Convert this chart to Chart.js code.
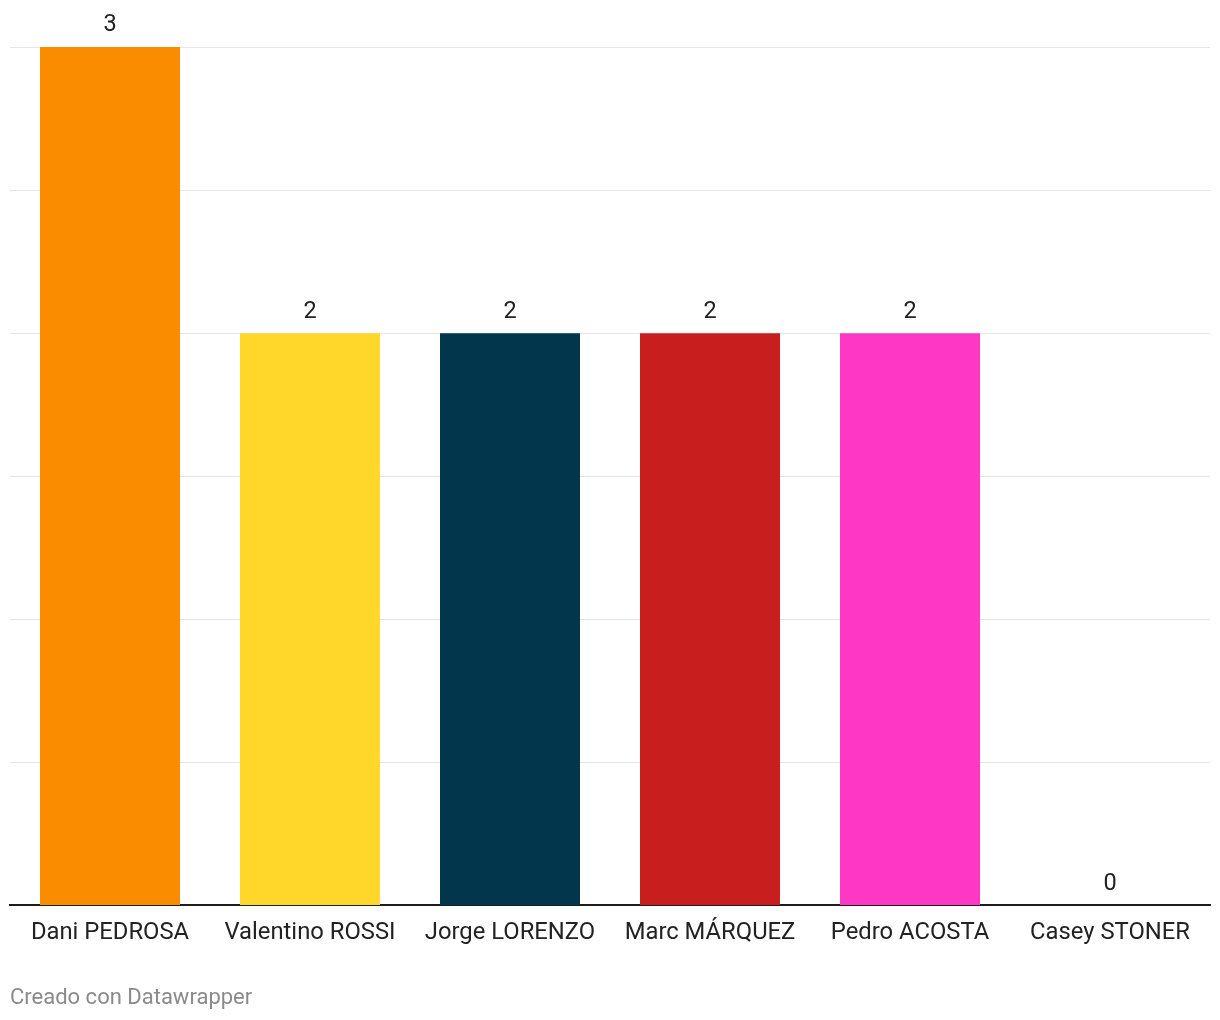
<!DOCTYPE html>
<html>
<head>
<meta charset="utf-8">
<script src="https://cdn.jsdelivr.net/npm/chart.js@4.4.1/dist/chart.umd.min.js"></script>
<style>
  html, body { margin: 0; padding: 0; background: #ffffff; }
  #wrap { position: relative; width: 1220px; height: 1020px; }
</style>
</head>
<body>
<div id="wrap"><canvas id="c"></canvas></div>
<script>
const categories = ["Dani PEDROSA", "Valentino ROSSI", "Jorge LORENZO", "Marc MÁRQUEZ", "Pedro ACOSTA", "Casey STONER"];
const values = [3, 2, 2, 2, 2, 0];
const barColors = ["#fa8c00", "#ffd72a", "#01364c", "#c81e1e", "#ff37c5", "#888888"];
const footerText = "Creado con Datawrapper";

const valueLabels = {
  id: 'valueLabels',
  afterDatasetsDraw(chart) {
    const ctx = chart.ctx;
    const meta = chart.getDatasetMeta(0);
    ctx.save();
    ctx.fillStyle = '#222222';
    ctx.font = '23.5px Roboto';
    ctx.textAlign = 'center';
    ctx.textBaseline = 'middle';
    meta.data.forEach((bar, i) => {
      ctx.fillText(String(values[i]), bar.x, bar.y - 21.5);
    });
    ctx.restore();
  }
};

const footer = {
  id: 'footer',
  afterDraw(chart) {
    const ctx = chart.ctx;
    ctx.save();
    ctx.fillStyle = '#8a8a8a';
    ctx.font = '22px Roboto';
    ctx.textAlign = 'left';
    ctx.textBaseline = 'middle';
    ctx.fillText(footerText, 10, 998);
    ctx.restore();
  }
};

new Chart(document.getElementById('c'), {
  type: 'bar',
  data: {
    labels: categories,
    datasets: [{
      data: values,
      backgroundColor: barColors,
      borderWidth: 0,
      barPercentage: 0.7,
      categoryPercentage: 1.0
    }]
  },
  options: {
    responsive: true,
    maintainAspectRatio: false,
    animation: false,
    layout: { padding: { top: 47, left: 10, right: 10, bottom: 60 } },
    plugins: { legend: { display: false }, tooltip: { enabled: false } },
    scales: {
      x: {
        grid: { display: false, drawTicks: false },
        border: { display: true, color: '#1d1d1d', width: 2 },
        ticks: { color: '#222222', font: { family: 'Roboto', size: 23.8 }, padding: 13, maxRotation: 0, autoSkip: false }
      },
      y: {
        min: 0, max: 3,
        ticks: { display: false, stepSize: 0.5 },
        grid: { color: '#e6e6e6', lineWidth: 1, drawTicks: false },
        border: { display: false }
      }
    }
  },
  plugins: [valueLabels, footer]
});
</script>
</body>
</html>
